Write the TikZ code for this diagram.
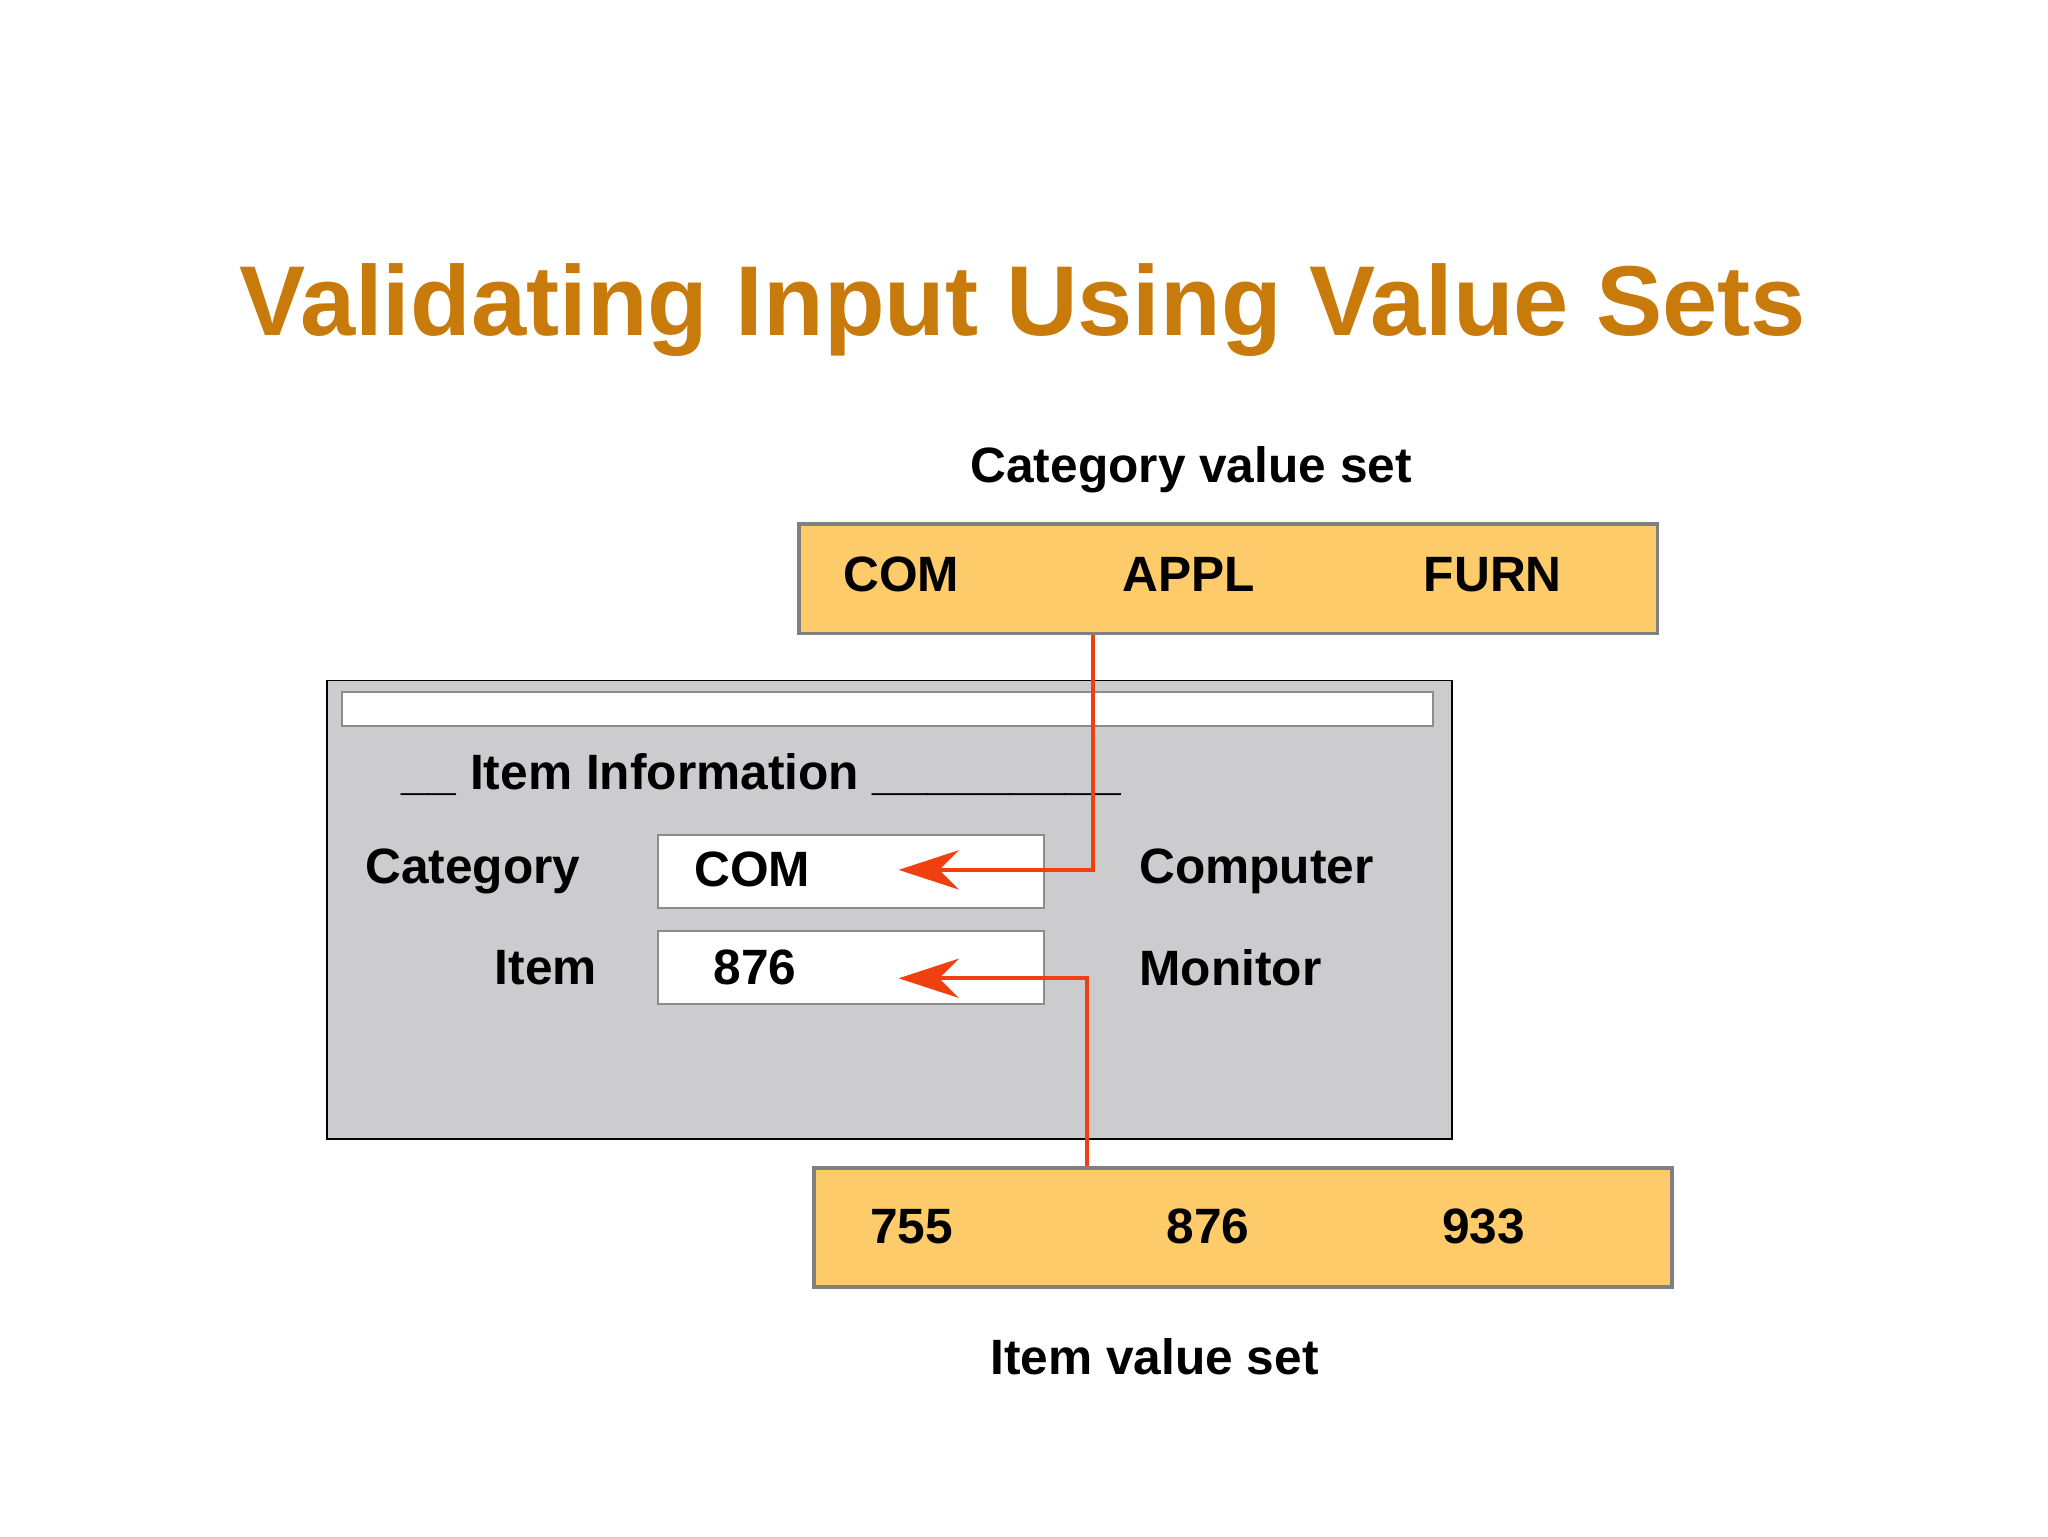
\documentclass[tikz,border=0pt]{standalone}
\usepackage{fontspec}
\setmainfont{Liberation Sans}
\usetikzlibrary{arrows.meta}
\definecolor{ttl}{RGB}{200,122,10}
\definecolor{vset}{RGB}{254,203,107}
\definecolor{win}{RGB}{204,203,205}
\definecolor{arr}{RGB}{240,64,16}
\tikzset{
 lbl/.style={font=\fontsize{38}{40}\selectfont\bfseries, inner sep=0pt},
 vbox/.style={draw={rgb,255:red,128;green,128;blue,128}, line width=3pt, fill=vset},
 fld/.style={draw={rgb,255:red,140;green,140;blue,140}, line width=1.5pt, fill=white},
 link/.style={draw=arr, line width=3pt, -{Stealth[length=46pt,width=30pt]}}
}
\begin{document}
\begin{tikzpicture}[x=1pt,y=-1pt]
\useasboundingbox[fill=white] (0,0) rectangle (1568,1176);
\node[font=\fontsize{76}{80}\selectfont\bfseries, text=ttl] (title) at (783,237) {Validating Input Using Value Sets};
\node[lbl] (catset) at (912,360) {Category value set};
\draw[vbox] (612,401) rectangle (1269,485);
\node[lbl] (c1) at (690,440) {COM};
\node[lbl] (c2) at (910,440) {APPL};
\node[lbl] (c3) at (1143,440) {FURN};
\draw[black, line width=1.5pt, fill=win] (250,521) rectangle (1112,872);
\draw[fld] (262,530) rectangle (1097,556);
\node[lbl, anchor=west] (info) at (307,593) {\_\_ Item Information \_\_\_\_\_\_\_\_\_};
\node[lbl] (catl) at (362,667) {Category};
\node[lbl] (iteml) at (418,741) {Item};
\draw[fld] (504,639) rectangle (799,695);
\draw[fld] (504,713) rectangle (799,769);
\node[lbl] (f1) at (576,666) {COM};
\node[lbl] (f2) at (578,741) {876};
\coordinate (t1) at (688,666);
\coordinate (t2) at (688,749);
\node[lbl] (comp) at (962,667) {Computer};
\node[lbl] (mon) at (942,741) {Monitor};
\draw[vbox] (623,894) rectangle (1280,985);
\node[lbl] (i1) at (698,939) {755};
\node[lbl] (i2) at (925,939) {876};
\node[lbl] (i3) at (1136,939) {933};
\node[lbl] (itemset) at (884,1039) {Item value set};
\coordinate (s1) at (837,486);
\coordinate (s2) at (832,893);
\draw[link] (s1) |- (t1);
\draw[link] (s2) |- (t2);
\end{tikzpicture}
\end{document}
